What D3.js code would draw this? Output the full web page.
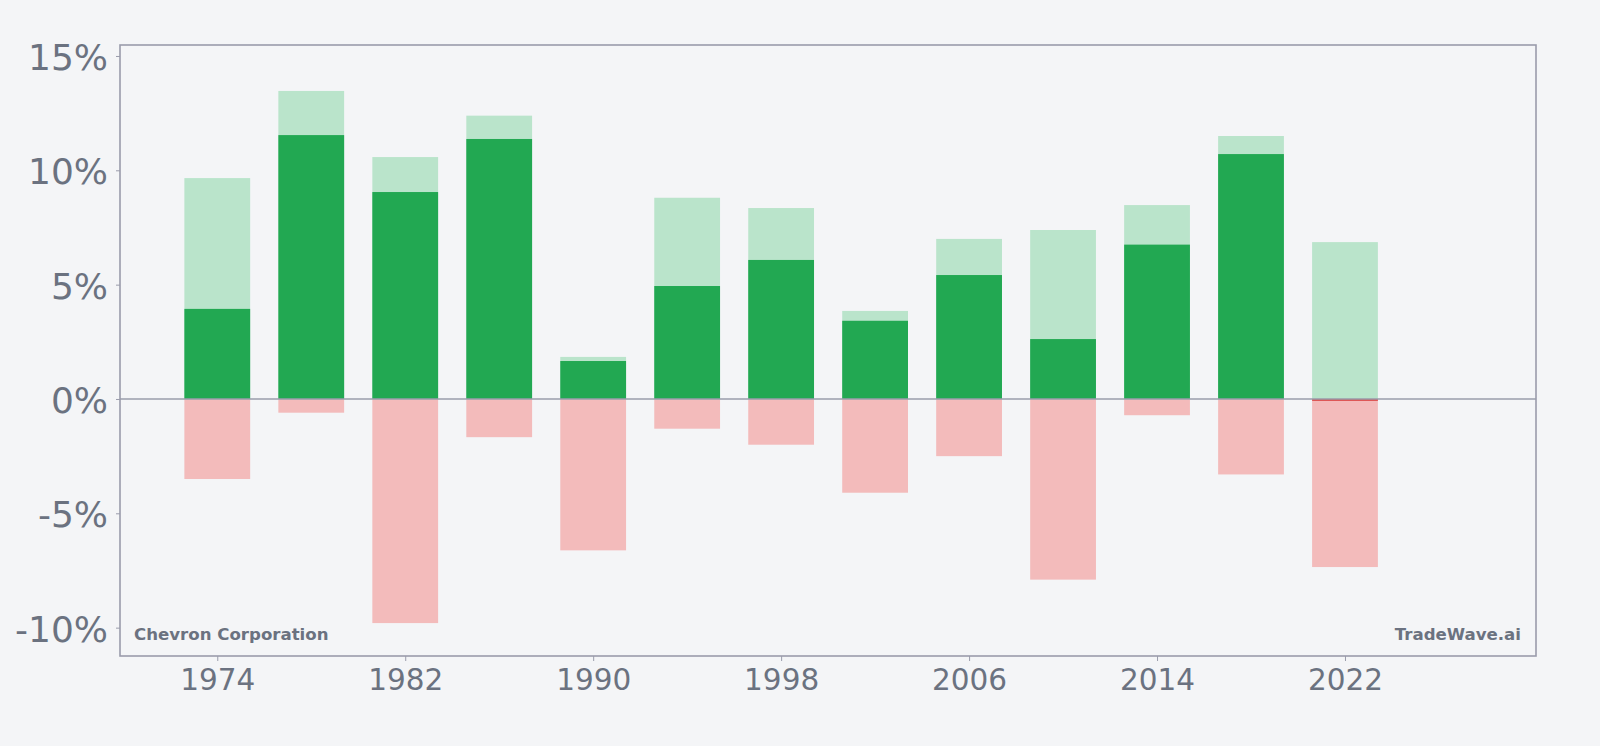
<!DOCTYPE html>
<html>
<head>
<meta charset="utf-8">
<script src="https://cdn.jsdelivr.net/npm/d3@7"></script>
<style>
  body { margin: 0; background: #f4f5f7; }
  svg { display: block; }
</style>
</head>
<body>
<script>
// years shown, one bar every 4 years
var years = [1974, 1978, 1982, 1986, 1990, 1994, 1998, 2002, 2006, 2010, 2014, 2018, 2022];
// dark bar (actual return, %)
var values = [3.94, 11.54, 9.05, 11.37, 1.66, 4.94, 6.08, 3.42, 5.42, 2.62, 6.75, 10.71, -0.08];
// light green bar (best case, %)
var highs = [9.66, 13.47, 10.58, 12.39, 1.84, 8.80, 8.35, 3.85, 7.00, 7.39, 8.48, 11.50, 6.86];
// light red bar (worst case, %)
var lows = [-3.50, -0.60, -9.80, -1.67, -6.62, -1.30, -2.00, -4.10, -2.50, -7.90, -0.71, -3.30, -7.35];

var xTicks = [1974, 1982, 1990, 1998, 2006, 2014, 2022];
var yTicks = [-10, -5, 0, 5, 10, 15];

var w = 1600;
var h = 746;
// plot box (note: "top" is taken by window.top)
var plotL = 120, plotR = 1536, plotT = 45, plotB = 656;

var axisColor = "#9a9cab";
var textColor = "#6b7280";
var darkgreen = "#22a852";
var lightgreen = "#bae4cb";
var lightred = "#f3bbbb";
var red = "#d9403f";

var rows = [];
for (var i = 0; i < years.length; i++) {
  rows.push({year: years[i], value: values[i], high: highs[i], low: lows[i]});
}

var svg = d3.select("body")
  .append("svg")
  .attr("width", w)
  .attr("height", h);

svg.append("rect")
  .attr("width", w)
  .attr("height", h)
  .attr("fill", "#f4f5f7");

var x = d3.scaleLinear().domain([1969.86, 2030.13]).range([plotL, plotR]);
var y = d3.scaleLinear().domain([-11.24, 15.48]).range([plotB, plotT]);

var halfBar = 1.4; // years

function barX(d) { return x(d.year - halfBar); }
function barW(d) { return x(d.year + halfBar) - x(d.year - halfBar); }

// light green
svg.append("g").selectAll("rect")
  .data(rows)
  .enter()
  .append("rect")
  .attr("x", barX)
  .attr("width", barW)
  .attr("y", function(d) { return y(d.high); })
  .attr("height", function(d) { return y(0) - y(d.high); })
  .attr("fill", lightgreen);

// light red
svg.append("g").selectAll("rect")
  .data(rows)
  .enter()
  .append("rect")
  .attr("x", barX)
  .attr("width", barW)
  .attr("y", y(0))
  .attr("height", function(d) { return y(d.low) - y(0); })
  .attr("fill", lightred);

// actual value
svg.append("g").selectAll("rect")
  .data(rows)
  .enter()
  .append("rect")
  .attr("x", barX)
  .attr("width", barW)
  .attr("y", function(d) { return y(Math.max(0, d.value)); })
  .attr("height", function(d) { return Math.abs(y(d.value) - y(0)); })
  .attr("fill", function(d) { return d.value < 0 ? red : darkgreen; });

// zero line
svg.append("line")
  .attr("x1", plotL)
  .attr("x2", plotR)
  .attr("y1", y(0))
  .attr("y2", y(0))
  .attr("stroke", axisColor)
  .attr("stroke-width", 1.6);

// y axis
var yAxis = svg.append("g")
  .attr("transform", "translate(" + plotL + ",0)")
  .call(d3.axisLeft(y).tickValues(yTicks).tickSize(4).tickPadding(8)
    .tickFormat(function(d) { return d + "%"; }));
yAxis.select(".domain").remove();
yAxis.selectAll("line").attr("stroke", axisColor);
yAxis.selectAll("text")
  .attr("fill", textColor)
  .attr("font-family", "DejaVu Sans")
  .attr("font-size", 36)
  .attr("dy", "0.38em");

// x axis
var xAxis = svg.append("g")
  .attr("transform", "translate(0," + plotB + ")")
  .call(d3.axisBottom(x).tickValues(xTicks).tickSize(5).tickPadding(8)
    .tickFormat(d3.format("d")));
xAxis.select(".domain").remove();
xAxis.selectAll("line").attr("stroke", axisColor);
xAxis.selectAll("text")
  .attr("fill", textColor)
  .attr("font-family", "DejaVu Sans")
  .attr("font-size", 29.5);

// frame
svg.append("rect")
  .attr("x", plotL)
  .attr("y", plotT)
  .attr("width", plotR - plotL)
  .attr("height", plotB - plotT)
  .attr("fill", "none")
  .attr("stroke", axisColor)
  .attr("stroke-width", 1.6);

// labels
svg.append("text")
  .attr("x", plotL + 14)
  .attr("y", 640)
  .attr("fill", textColor)
  .attr("font-family", "DejaVu Sans")
  .attr("font-weight", "bold")
  .attr("font-size", 16.6)
  .text("Chevron Corporation");

svg.append("text")
  .attr("x", plotR - 15)
  .attr("y", 640)
  .attr("text-anchor", "end")
  .attr("fill", textColor)
  .attr("font-family", "DejaVu Sans")
  .attr("font-weight", "bold")
  .attr("font-size", 16.6)
  .text("TradeWave.ai");
</script>
</body>
</html>
